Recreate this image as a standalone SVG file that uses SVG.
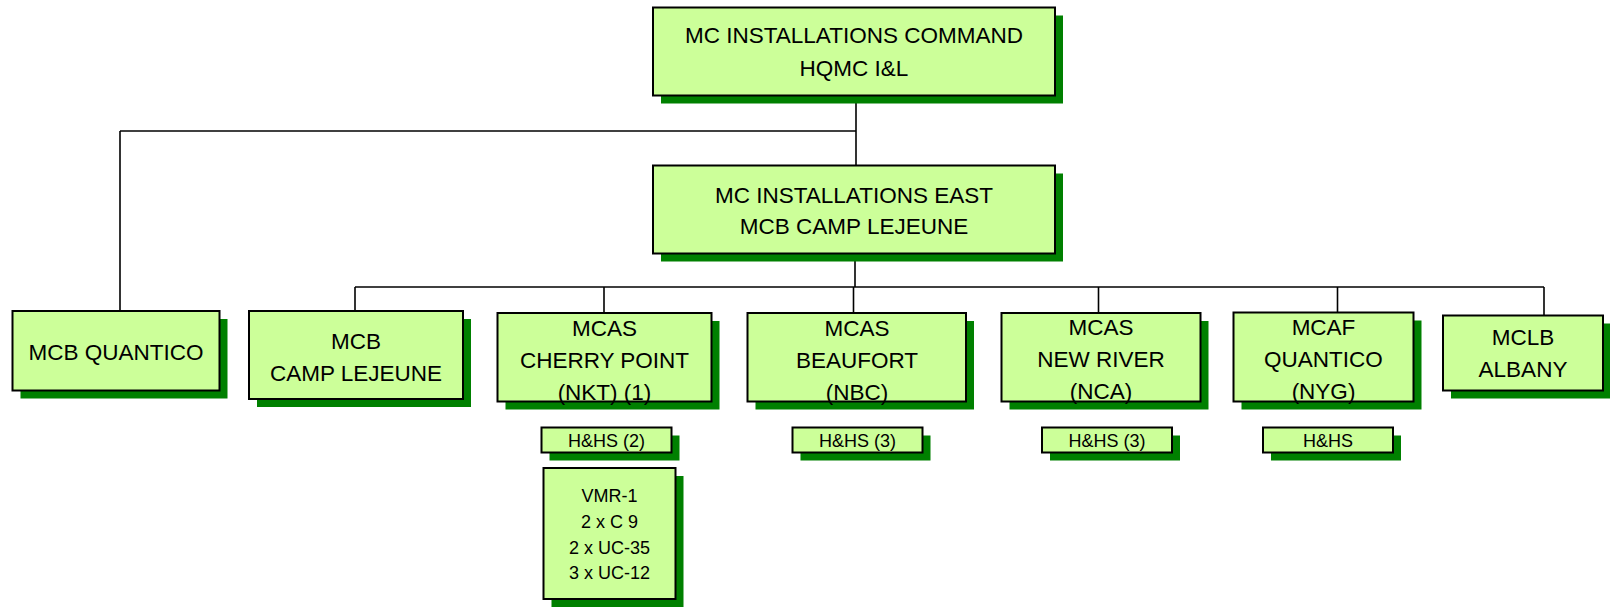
<svg xmlns="http://www.w3.org/2000/svg" width="1610" height="607" viewBox="0 0 1610 607">
<style>
.box{fill:#CCFF99;stroke:#000;stroke-width:2}
.sh{fill:#008000}
.t{font-family:"Liberation Sans",Arial,sans-serif;font-size:22.5px;fill:#000;text-anchor:middle}
.s{font-family:"Liberation Sans",Arial,sans-serif;font-size:18px;fill:#000;text-anchor:middle}
.c{stroke:#000;stroke-width:1.6;fill:none}
</style>
<rect width="1610" height="607" fill="#fff"/>
<g id="connectors">
<path class="c" d="M856 96V165"/>
<path class="c" d="M120 131H856"/>
<path class="c" d="M120 131V311"/>
<path class="c" d="M855 254V287"/>
<path class="c" d="M355 287H1544"/>
<path class="c" d="M355 287V311"/>
<path class="c" d="M604 287V313"/>
<path class="c" d="M853.5 287V313"/>
<path class="c" d="M1098.5 287V313"/>
<path class="c" d="M1337.5 287V312.5"/>
<path class="c" d="M1544 287V315.5"/>
</g>
<g id="n-command">
<rect class="sh" x="661" y="15.5" width="402" height="88"/>
<rect class="box" x="653" y="7.5" width="402" height="88"/>
<text class="t" x="854" y="43">MC INSTALLATIONS COMMAND</text>
<text class="t" x="854" y="76">HQMC I&amp;L</text>
</g>
<g id="n-east">
<rect class="sh" x="661" y="173.5" width="402" height="88"/>
<rect class="box" x="653" y="165.5" width="402" height="88"/>
<text class="t" x="854" y="203">MC INSTALLATIONS EAST</text>
<text class="t" x="854" y="234">MCB CAMP LEJEUNE</text>
</g>
<g id="n-quantico">
<rect class="sh" x="20.5" y="319" width="207" height="79.5"/>
<rect class="box" x="12.5" y="311" width="207" height="79.5"/>
<text class="t" x="116" y="360">MCB QUANTICO</text>
</g>
<g id="n-lejeune">
<rect class="sh" x="257" y="319" width="214" height="88"/>
<rect class="box" x="249" y="311" width="214" height="88"/>
<text class="t" x="356" y="349">MCB</text>
<text class="t" x="356" y="381">CAMP LEJEUNE</text>
</g>
<g id="n-cherry">
<rect class="sh" x="505.5" y="321" width="214" height="88.5"/>
<rect class="box" x="497.5" y="313" width="214" height="88.5"/>
<text class="t" x="604.5" y="336">MCAS</text>
<text class="t" x="604.5" y="368">CHERRY POINT</text>
<text class="t" x="604.5" y="400">(NKT) (1)</text>
</g>
<g id="n-beaufort">
<rect class="sh" x="755.5" y="321" width="218.5" height="88.5"/>
<rect class="box" x="747.5" y="313" width="218.5" height="88.5"/>
<text class="t" x="857" y="336">MCAS</text>
<text class="t" x="857" y="368">BEAUFORT</text>
<text class="t" x="857" y="400">(NBC)</text>
</g>
<g id="n-newriver">
<rect class="sh" x="1009.5" y="321" width="199" height="88.5"/>
<rect class="box" x="1001.5" y="313" width="199" height="88.5"/>
<text class="t" x="1101" y="335">MCAS</text>
<text class="t" x="1101" y="367">NEW RIVER</text>
<text class="t" x="1101" y="398.5">(NCA)</text>
</g>
<g id="n-mcaf">
<rect class="sh" x="1241.5" y="320.5" width="180" height="89"/>
<rect class="box" x="1233.5" y="312.5" width="180" height="89"/>
<text class="t" x="1323.5" y="334.5">MCAF</text>
<text class="t" x="1323.5" y="366.5">QUANTICO</text>
<text class="t" x="1323.5" y="398.5">(NYG)</text>
</g>
<g id="n-albany">
<rect class="sh" x="1451" y="323.5" width="160" height="75"/>
<rect class="box" x="1443" y="315.5" width="160" height="75"/>
<text class="t" x="1523" y="345">MCLB</text>
<text class="t" x="1523" y="377">ALBANY</text>
</g>
<g id="n-hhs-cherry">
<rect class="sh" x="549.5" y="435.5" width="130" height="25"/>
<rect class="box" x="541.5" y="427.5" width="130" height="25"/>
<text class="s" x="606.5" y="447">H&amp;HS (2)</text>
</g>
<g id="n-vmr">
<rect class="sh" x="551.5" y="476" width="132" height="131"/>
<rect class="box" x="543.5" y="468" width="132" height="131"/>
<text class="s" x="609.5" y="502">VMR-1</text>
<text class="s" x="609.5" y="528">2 x C 9</text>
<text class="s" x="609.5" y="553.5">2 x UC-35</text>
<text class="s" x="609.5" y="579">3 x UC-12</text>
</g>
<g id="n-hhs-beaufort">
<rect class="sh" x="800.5" y="435.5" width="130" height="25"/>
<rect class="box" x="792.5" y="427.5" width="130" height="25"/>
<text class="s" x="857.5" y="447">H&amp;HS (3)</text>
</g>
<g id="n-hhs-newriver">
<rect class="sh" x="1050" y="435.5" width="130" height="25"/>
<rect class="box" x="1042" y="427.5" width="130" height="25"/>
<text class="s" x="1107" y="447">H&amp;HS (3)</text>
</g>
<g id="n-hhs-mcaf">
<rect class="sh" x="1271" y="435.5" width="130" height="25"/>
<rect class="box" x="1263" y="427.5" width="130" height="25"/>
<text class="s" x="1328" y="447">H&amp;HS</text>
</g>
</svg>
